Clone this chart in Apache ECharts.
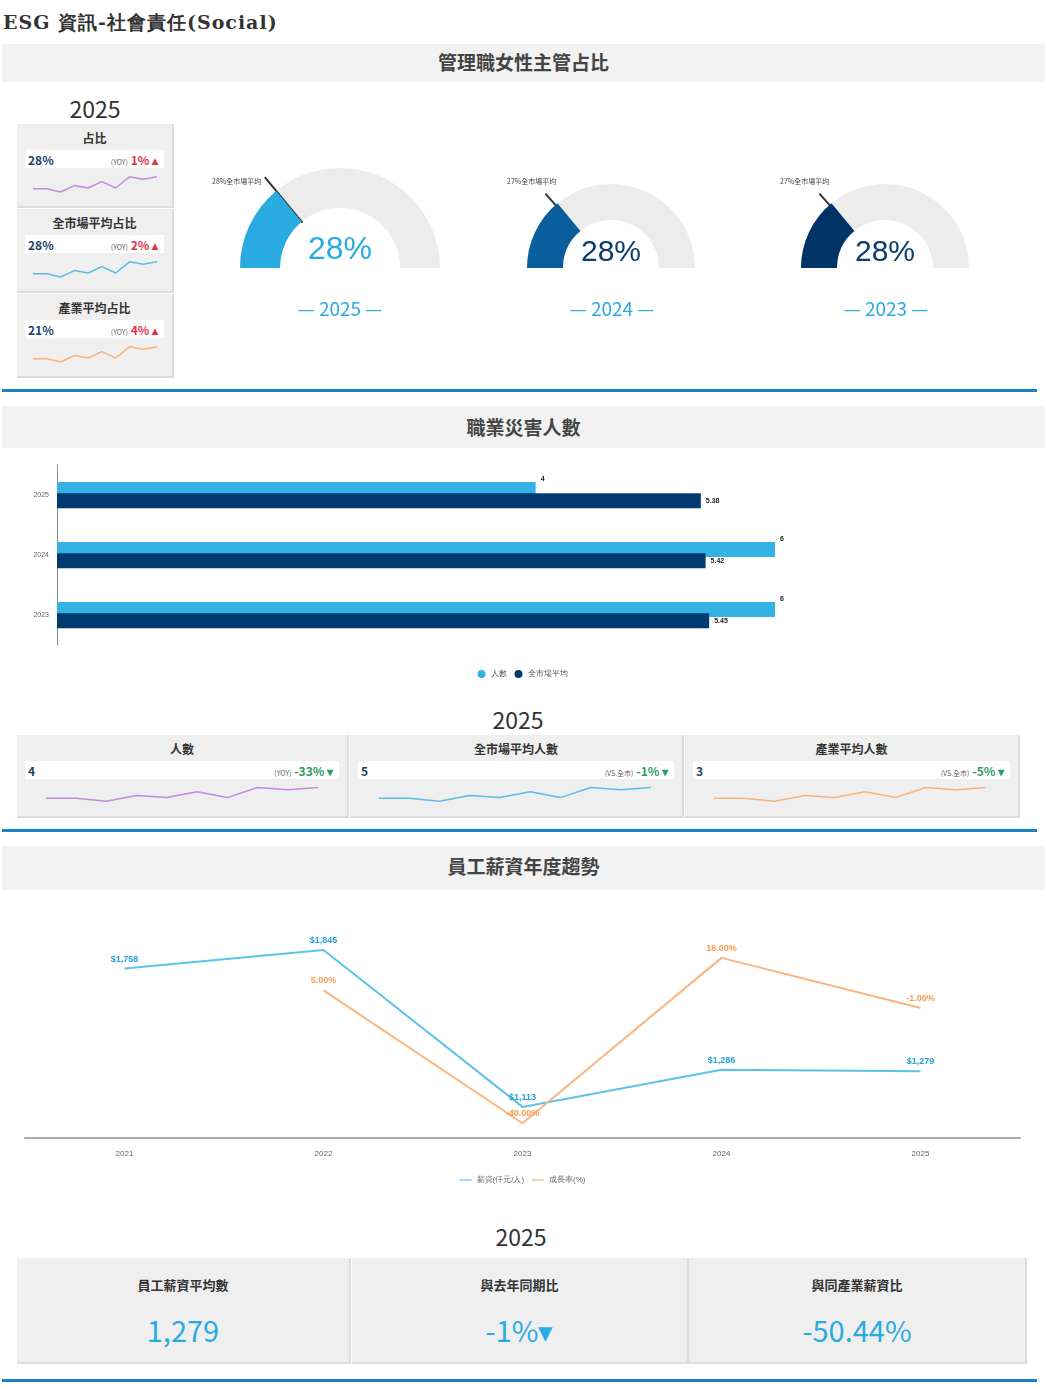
<!DOCTYPE html>
<html lang="zh-Hant">
<head>
<meta charset="UTF-8">
<title>ESG 社會責任</title>
<script src="https://cdn.jsdelivr.net/npm/echarts@6/dist/echarts.min.js"></script>
<style>
  body { margin:0; width:1045px; height:1386px; position:relative; background:#fff;
         font-family:"Noto Sans CJK TC","Noto Sans",sans-serif; color:#333; overflow:hidden; }
  .abs { position:absolute; }
  .hdr { position:absolute; left:2px; width:1043px; background:#f2f2f2; text-align:center;
         font-size:19px; font-weight:bold; color:#444; }
  .bline { position:absolute; left:2px; width:1035px; height:3px; background:#1a82c4; }
  .year { position:absolute; font-size:23px; color:#333; text-align:center; }
  .card { position:absolute; background:#efefef; border-right:2px solid #ddd; border-bottom:2px solid #ddd; }
  .card .t { text-align:center; font-size:12px; font-weight:bold; margin-top:5px; color:#333; }
  .card .row { background:#fff; margin:4px 8px 0 8px; height:18px; position:relative; font-size:12px; font-weight:bold; }
  .card .row .v { position:absolute; left:3px; top:1px; color:#1d3f6e; }
  .card .row .y { position:absolute; right:6px; top:1px; }
  .card .row .y small { font-size:7px; font-weight:normal; color:#666; }
  .up { color:#e0344a; } .dn { color:#2e9a6a; }
  .spark { position:absolute; }
  .big { text-align:center; font-size:29px; color:#29abe2; margin-top:14px; }
  .gl { position:absolute; font-size:7px; color:#444; }
  .gy { position:absolute; font-size:19px; color:#29abe2; width:160px; text-align:center; }
</style>
</head>
<body>
<div class="abs" style="left:3px;top:10px;font-family:'DejaVu Serif',serif;font-weight:bold;font-size:19px;letter-spacing:1px;">ESG 資訊-社會責任(Social)</div>

<div class="hdr" style="top:44px;height:38px;line-height:36px;">管理職女性主管占比</div>
<div class="year" style="left:35px;top:91px;width:120px;">2025</div>
<div id="cards1"></div>
<div id="gauges" class="abs" style="left:0;top:140px;width:1045px;height:200px;"></div>
<div class="gl" style="left:212px;top:176px;">28%全市場平均</div>
<div class="gl" style="left:507px;top:176px;">27%全市場平均</div>
<div class="gl" style="left:780px;top:176px;">27%全市場平均</div>
<div class="gy" style="left:260px;top:294px;">— 2025 —</div>
<div class="gy" style="left:532px;top:294px;">— 2024 —</div>
<div class="gy" style="left:806px;top:294px;">— 2023 —</div>
<div class="bline" style="top:389px;"></div>

<div class="hdr" style="top:406px;height:42px;line-height:42px;">職業災害人數</div>
<div id="bars" class="abs" style="left:0;top:455px;width:1045px;height:240px;"></div>
<div class="year" style="left:458px;top:702px;width:120px;">2025</div>
<div id="cards2"></div>
<div class="bline" style="top:829px;"></div>

<div class="hdr" style="top:846px;height:44px;line-height:40px;">員工薪資年度趨勢</div>
<div id="trend" class="abs" style="left:0;top:895px;width:1045px;height:300px;"></div>
<div class="year" style="left:461px;top:1219px;width:120px;">2025</div>
<div id="cards3"></div>
<div class="bline" style="top:1379px;"></div>

<script>
// ---- data ----
var ratioCards = [
  { title:'占比', value:'28%', tag:'(YOY)', chg:'1%', up:true, color:'#c38ae0' },
  { title:'全市場平均占比', value:'28%', tag:'(YOY)', chg:'2%', up:true, color:'#5bbde6' },
  { title:'產業平均占比', value:'21%', tag:'(YOY)', chg:'4%', up:true, color:'#f7b37a' }
];
var sparkVals = [0.8, 0.8, 0, 1.6, 1.0, 2.6, 1.0, 3.8, 3.2, 3.8];
var gaugeYears = ['2025', '2024', '2023'];
var gaugeVals = [28, 28, 28];
var gaugeMarket = [28, 27, 27];
var gaugeColors = ['#29abe2', '#0a5e9e', '#003366'];

var barYears = ['2023', '2024', '2025'];
var barCount = [6, 6, 4];
var barMarket = [5.45, 5.42, 5.38];

var injuryCards = [
  { title:'人數', value:'4', tag:'(YOY)', chg:'-33%', color:'#c38ae0' },
  { title:'全市場平均人數', value:'5', tag:'(VS.全市)', chg:'-1%', color:'#5bbde6' },
  { title:'產業平均人數', value:'3', tag:'(VS.全市)', chg:'-5%', color:'#f7b37a' }
];

var salaryYears = ['2021', '2022', '2023', '2024', '2025'];
var salary = [1758, 1845, 1113, 1286, 1279];
var growth = [null, 5, -40, 16, -1];

var salaryCards = [
  { title:'員工薪資平均數', value:'1,279' },
  { title:'與去年同期比', value:'-1%▾' },
  { title:'與同產業薪資比', value:'-50.44%' }
];

// ---- small cards with sparklines ----
function sparkline(el, color) {
  echarts.init(el).setOption({
    animation:false,
    grid:{ left:4, right:4, top:6, bottom:6 },
    xAxis:{ type:'category', show:false, boundaryGap:false, data:sparkVals.map(function(v,i){return i;}) },
    yAxis:{ type:'value', show:false, min:-0.5, max:4.5 },
    series:[{ type:'line', data:sparkVals, symbol:'none', lineStyle:{ color:color, width:1.5 } }]
  });
}

var c1 = document.getElementById('cards1');
ratioCards.forEach(function (c, i) {
  var d = document.createElement('div');
  d.className = 'card';
  d.style.cssText = 'left:17px;top:' + (124 + i * 85) + 'px;width:155px;height:82px;';
  d.innerHTML = '<div class="t">' + c.title + '</div><div class="row"><span class="v">' + c.value +
    '</span><span class="y"><small>' + c.tag + '</small> <span class="up">' + c.chg + ' ▴</span></span></div>';
  var s = document.createElement('div');
  s.className = 'spark';
  s.style.cssText = 'left:12px;top:44px;width:132px;height:32px;';
  d.appendChild(s);
  c1.appendChild(d);
  sparkline(s, c.color);
});

var c2 = document.getElementById('cards2');
var c2x = [17, 350, 685], c2w = [330, 332, 333];
injuryCards.forEach(function (c, i) {
  var d = document.createElement('div');
  d.className = 'card';
  d.style.cssText = 'left:' + c2x[i] + 'px;top:735px;width:' + c2w[i] + 'px;height:81px;';
  d.innerHTML = '<div class="t">' + c.title + '</div><div class="row"><span class="v">' + c.value +
    '</span><span class="y"><small>' + c.tag + '</small> <span class="dn">' + c.chg + ' ▾</span></span></div>';
  var s = document.createElement('div');
  s.className = 'spark';
  s.style.cssText = 'left:25px;top:44px;width:280px;height:30px;';
  d.appendChild(s);
  c2.appendChild(d);
  sparkline(s, c.color);
});

var c3 = document.getElementById('cards3');
var c3x = [17, 352, 689], c3w = [332, 335, 336];
salaryCards.forEach(function (c, i) {
  var d = document.createElement('div');
  d.className = 'card';
  d.style.cssText = 'left:' + c3x[i] + 'px;top:1258px;width:' + c3w[i] + 'px;height:104px;';
  d.innerHTML = '<div class="t" style="margin-top:17px;font-size:13px;">' + c.title + '</div><div class="big">' + c.value + '</div>';
  c3.appendChild(d);
});

// ---- gauges ----
var gCenters = [[340, 128], [611, 128], [885, 128]];
var gRadius = [100, 84, 84];
var gWidth = [40, 36, 36];
var gSeries = [];
gaugeVals.forEach(function (v, i) {
  gSeries.push({
    type:'gauge', center:gCenters[i], radius:gRadius[i], startAngle:180, endAngle:0, min:0, max:100,
    progress:{ show:true, width:gWidth[i], itemStyle:{ color:gaugeColors[i] } },
    axisLine:{ lineStyle:{ width:gWidth[i], color:[[1, '#ececec']] } },
    axisTick:{ show:false }, splitLine:{ show:false }, axisLabel:{ show:false }, pointer:{ show:false },
    title:{ show:false },
    detail:{ offsetCenter:[0, '-18%'], fontSize:i === 0 ? 32 : 30, color:i === 0 ? '#29abe2' : '#0a3d6b',
             fontWeight:'normal', formatter:'{value}%' },
    data:[{ value:v }]
  });
  gSeries.push({
    type:'gauge', center:gCenters[i], radius:gRadius[i], startAngle:180, endAngle:0, min:0, max:100,
    axisLine:{ show:false }, axisTick:{ show:false }, splitLine:{ show:false }, axisLabel:{ show:false },
    pointer:{ show:true, icon:'path://M0 0L1 0L1 50L0 50Z M0 100L0.001 100Z', length:'118%', width:2,
              itemStyle:{ color:'#333' } },
    title:{ show:false }, detail:{ show:false },
    data:[{ value:gaugeMarket[i] }]
  });
});
echarts.init(document.getElementById('gauges')).setOption({ animation:false, series:gSeries });

// ---- injury bars ----
echarts.init(document.getElementById('bars')).setOption({
  animation:false,
  legend:{ bottom:12, left:'center', itemWidth:8, itemHeight:8, icon:'circle', textStyle:{ fontSize:8, color:'#555' },
           data:['人數', '全市場平均'] },
  grid:{ left:57, right:270, top:10, bottom:50 },
  xAxis:{ type:'value', min:0, max:6, show:false },
  yAxis:{ type:'category', data:barYears, axisTick:{ show:false },
          axisLine:{ lineStyle:{ color:'#888' } }, axisLabel:{ fontSize:7, color:'#666' } },
  series:[
    { name:'人數', type:'bar', data:barCount, barWidth:15, barGap:'-25%', z:1, itemStyle:{ color:'#34b2e4' },
      label:{ show:true, position:'right', offset:[0, -10], fontSize:7, fontWeight:'bold', color:'#222' } },
    { name:'全市場平均', type:'bar', data:barMarket, barWidth:15, z:2, itemStyle:{ color:'#003a70' },
      label:{ show:true, position:'right', fontSize:7, fontWeight:'bold', color:'#222' } }
  ]
});

// ---- salary trend ----
echarts.init(document.getElementById('trend')).setOption({
  animation:false,
  legend:{ bottom:6, left:'center', icon:'path://M0 4H20V6H0Z', itemWidth:12, itemHeight:4,
           textStyle:{ fontSize:8, color:'#666' } },
  grid:{ left:25, right:25, top:5, bottom:57 },
  xAxis:{ type:'category', data:salaryYears, axisTick:{ show:false },
          axisLine:{ onZero:false, lineStyle:{ color:'#aaa', width:2 } }, axisLabel:{ fontSize:8, color:'#666', margin:12 } },
  yAxis:[
    { type:'value', min:968, max:2078, show:false },
    { type:'value', min:-45, max:35.6, show:false }
  ],
  series:[
    { name:'薪資(仟元/人)', type:'line', data:salary, symbol:'circle', symbolSize:0, lineStyle:{ color:'#5bc3ea', width:2 },
      itemStyle:{ color:'#5bc3ea' },
      label:{ show:true, position:'top', fontSize:9, fontWeight:'bold', color:'#2a9fd6',
              formatter:function (p) { return '$' + p.value.toLocaleString('en-US'); } } },
    { name:'成長率(%)', type:'line', yAxisIndex:1, data:growth, symbol:'circle', symbolSize:0, lineStyle:{ color:'#fbb57e', width:2 },
      itemStyle:{ color:'#fbb57e' },
      label:{ show:true, position:'top', fontSize:9, fontWeight:'bold', color:'#f79a4f',
              formatter:function (p) { return p.value.toFixed(2) + '%'; } } }
  ]
});
</script>
</body>
</html>
